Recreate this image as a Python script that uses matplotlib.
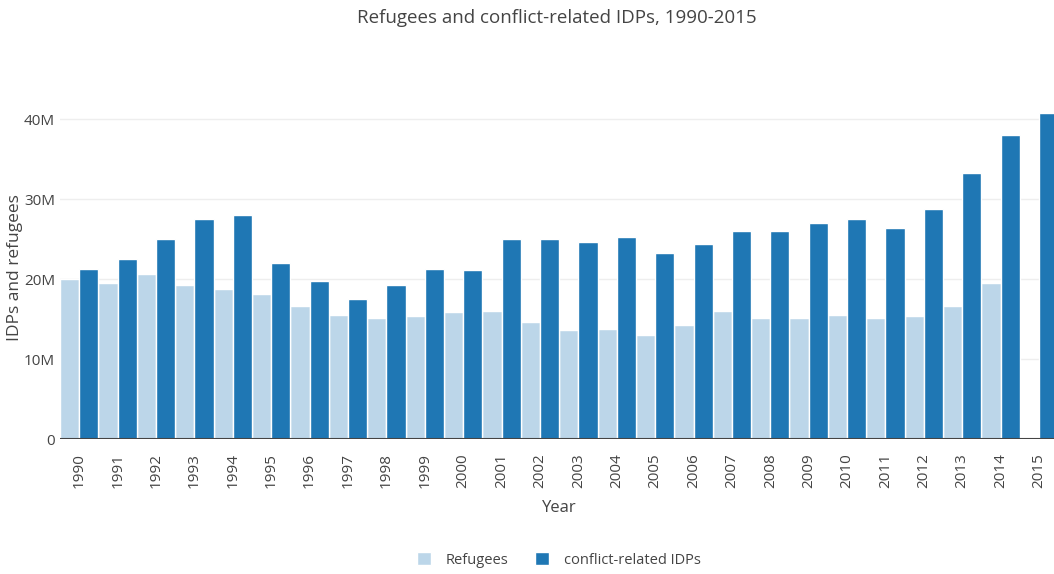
import numpy as np
import matplotlib
matplotlib.use("Agg")
import matplotlib.pyplot as plt
from matplotlib.ticker import FuncFormatter

years = list(range(1990, 2016))
refugees = [20.0, 19.5, 20.7, 19.3, 18.8, 18.1, 16.7, 15.5, 15.2, 15.4,
            15.9, 16.0, 14.7, 13.7, 13.8, 13.0, 14.3, 16.0, 15.2, 15.2,
            15.5, 15.2, 15.4, 16.7, 19.5, np.nan]
idps = [21.3, 22.5, 25.0, 27.5, 28.0, 22.0, 19.75, 17.5, 19.3, 21.3,
        21.2, 25.0, 25.0, 24.6, 25.3, 23.3, 24.4, 26.0, 26.0, 27.0,
        27.5, 26.4, 28.8, 33.3, 38.0, 40.8]

light = '#bcd6e9'
dark = '#1f77b4'
grey = '#444444'

plt.rcParams['font.family'] = ['Open Sans', 'DejaVu Sans']

fig = plt.figure(figsize=(10.54, 5.74), dpi=100)
ax = fig.add_axes([0.057, 0.235, 0.947, 0.599])

x = np.arange(len(years))
w = 0.5
ax.bar(x - w / 2, refugees, w, color=light, edgecolor='white', linewidth=1,
       label='Refugees', zorder=2)
ax.bar(x + w / 2, idps, w, color=dark, edgecolor='white', linewidth=1,
       label='conflict-related IDPs', zorder=2)

ax.set_xlim(-0.5, len(years) - 0.5)
ax.set_ylim(0, 43)
ax.set_yticks([0, 10, 20, 30, 40])
ax.yaxis.set_major_formatter(FuncFormatter(lambda v, p: '0' if v == 0 else f'{int(v)}M'))
ax.grid(axis='y', color='#eeeeee', linewidth=1, zorder=0)
ax.axhline(0, color=grey, linewidth=1.5, zorder=3)

ax.set_xticks(x)
ax.set_xticklabels([str(y) for y in years], rotation=90)
ax.tick_params(axis='both', length=0, colors=grey, labelsize=11)
ax.tick_params(axis='x', pad=10)
for s in ax.spines.values():
    s.set_visible(False)

ax.set_xlabel('Year', fontsize=12, color=grey, labelpad=9)
ax.set_ylabel('IDPs and refugees', fontsize=12.5, color=grey)
ax.yaxis.set_label_coords(-0.037, 0.5)
fig.suptitle('Refugees and conflict-related IDPs, 1990-2015', fontsize=13.5,
             color=grey, x=0.528, y=0.985)

fig.legend(loc='lower center', bbox_to_anchor=(0.53, -0.012), ncol=2,
           frameon=False, fontsize=10.5, handlelength=1.0, handleheight=1.0,
           handletextpad=1.0, columnspacing=1.8, labelcolor=grey)

fig.savefig('out.png', dpi=100)
